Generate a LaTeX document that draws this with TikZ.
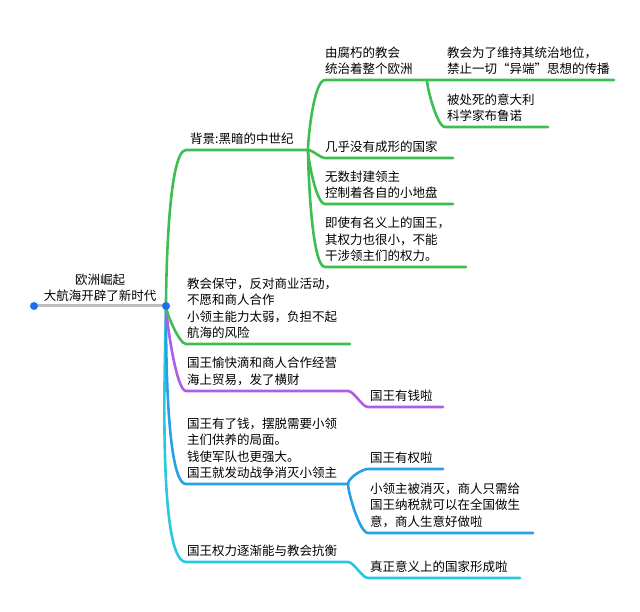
\documentclass[tikz,border=0pt]{standalone}
\usepackage{fontspec}
\newfontfamily\cjk{Noto Sans CJK SC}
\usetikzlibrary{positioning}
\usetikzlibrary{calc}
\definecolor{mgreen}{RGB}{62,190,80}
\definecolor{mpurple}{RGB}{176,92,230}
\definecolor{mblue}{RGB}{40,160,230}
\definecolor{mcyan}{RGB}{40,200,225}
\definecolor{mgray}{RGB}{190,190,190}
\definecolor{mdot}{RGB}{30,110,240}
\tikzset{txt/.style = {inner sep = 0, align = left, anchor = south west, font = \cjk\fontsize{12.5}{16.5}\selectfont},
  circ/.style = {fill = mdot, circle, inner sep = 0, minimum size = 8},
  br/.style = {line width = 2.6pt, line cap = round, looseness = 0.6}}

\begin{document}
\begin{tikzpicture}[x=1pt, y=1pt]
    \useasboundingbox (0, 0) rectangle (640, -612);

    % root
    \coordinate (rA) at (34, -306);
    \coordinate (rB) at (166, -306);
    \node [txt, anchor = south, align = center] (root) at (100, -302) {欧洲崛起\\大航海开辟了新时代};

    % branch starts and ends
    \coordinate (bgA) at (186, -150);  \coordinate (bgB) at (308, -150);
    \coordinate (c1A) at (325, -80);   \coordinate (c1B) at (427, -80);
    \coordinate (c11B) at (614, -80);
    \coordinate (c12A) at (445, -127); \coordinate (c12B) at (548, -127);
    \coordinate (c2A) at (325, -158);  \coordinate (c2B) at (453, -158);
    \coordinate (c3A) at (325, -204);  \coordinate (c3B) at (453, -204);
    \coordinate (c4A) at (325, -267);  \coordinate (c4B) at (466, -267);
    \coordinate (gA) at (186, -344);   \coordinate (gB) at (350, -344);
    \coordinate (pA) at (186, -391);   \coordinate (pB) at (348, -391);
    \coordinate (p1A) at (368, -407);  \coordinate (p1B) at (443, -407);
    \coordinate (bA) at (186, -484);   \coordinate (bB) at (348, -484);
    \coordinate (b1A) at (368, -469);  \coordinate (b1B) at (443, -469);
    \coordinate (b2A) at (368, -533);  \coordinate (b2B) at (533, -533);
    \coordinate (cA) at (186, -562);   \coordinate (cB) at (348, -562);
    \coordinate (c5A) at (368, -578);  \coordinate (c5B) at (520, -578);

    % texts
    \node [txt] (bg) at ($(bgA) + (4, 5)$) {背景:黑暗的中世纪};
    \node [txt] (t1) at ($(c1A) + (0, 5)$) {由腐朽的教会\\统治着整个欧洲};
    \node [txt] (t11) at (447, -75) {教会为了维持其统治地位，\\禁止一切“异端”思想的传播};
    \node [txt] (t12) at ($(c12A) + (2, 5)$) {被处死的意大利\\科学家布鲁诺};
    \node [txt] (t2) at ($(c2A) + (0, 5)$) {几乎没有成形的国家};
    \node [txt] (t3) at ($(c3A) + (0, 5)$) {无数封建领主\\控制着各自的小地盘};
    \node [txt] (t4) at ($(c4A) + (0, 5)$) {即使有名义上的国王，\\其权力也很小，不能\\干涉领主们的权力。};
    \node [txt] (g) at ($(gA) + (1, 5)$) {教会保守，反对商业活动，\\不愿和商人合作\\小领主能力太弱，负担不起\\航海的风险};
    \node [txt] (p) at ($(pA) + (1, 5)$) {国王愉快滴和商人合作经营\\海上贸易，发了横财};
    \node [txt] (p1) at ($(p1A) + (2, 5)$) {国王有钱啦};
    \node [txt] (b) at ($(bA) + (1, 5)$) {国王有了钱，摆脱需要小领\\主们供养的局面。\\钱使军队也更强大。\\国王就发动战争消灭小领主};
    \node [txt] (b1) at ($(b1A) + (2, 5)$) {国王有权啦};
    \node [txt] (b2) at ($(b2A) + (2, 5)$) {小领主被消灭，商人只需给\\国王纳税就可以在全国做生\\意，商人生意好做啦};
    \node [txt] (c) at ($(cA) + (1, 5)$) {国王权力逐渐能与教会抗衡};
    \node [txt] (c5) at ($(c5A) + (2, 5)$) {真正意义上的国家形成啦};

    % connectors
    \draw [br, mcyan] (rB) to [out = -90, in = 180, looseness = 0.3] (cA) -- (cB) to [out = 0, in = 180] (c5A) -- (c5B);
    \draw [br, mblue] (rB) to [out = -90, in = 180, looseness = 0.3] (bA) -- (bB);
    \draw [br, mblue] (bB) to [out = 90, in = 180] (b1A) -- (b1B);
    \draw [br, mblue] (bB) to [out = -90, in = 180, looseness = 0.4] (b2A) -- (b2B);
    \draw [br, mpurple] (rB) to [out = -90, in = 180, looseness = 0.3] (pA) -- (pB) to [out = 0, in = 180] (p1A) -- (p1B);
    \draw [br, mgreen] (rB) to [out = -90, in = 180, looseness = 0.4] (gA) -- (gB);
    \draw [br, mgreen] (rB) to [out = 90, in = 180, looseness = 0.3] (bgA) -- (bgB);
    \draw [br, mgreen] (bgB) to [out = 90, in = 180, looseness = 0.4] (c1A) -- (c1B) -- (c11B);
    \draw [br, mgreen] (c1B) to [out = -90, in = 180, looseness = 0.4] (c12A) -- (c12B);
    \draw [br, mgreen] (bgB) to [out = 0, in = 180] (c2A) -- (c2B);
    \draw [br, mgreen] (bgB) to [out = -90, in = 180, looseness = 0.4] (c3A) -- (c3B);
    \draw [br, mgreen] (bgB) to [out = -90, in = 180, looseness = 0.3] (c4A) -- (c4B);
    \draw [line width = 3pt, mgray] (rA) -- (rB);
    \node [circ] (rdotA) at (rA) {};
    \node [circ] (rdotB) at (rB) {};
\end{tikzpicture}
\end{document}
